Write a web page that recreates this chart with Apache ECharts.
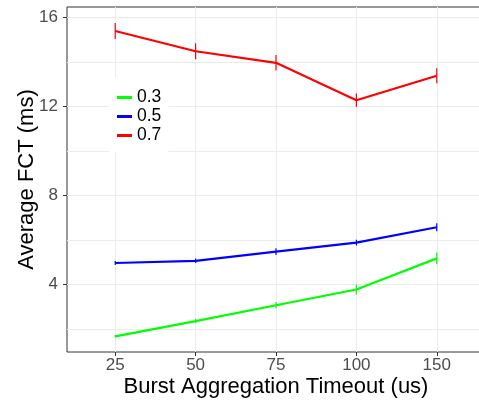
<!DOCTYPE html>
<html>
<head>
<meta charset="utf-8">
<script src="https://cdn.jsdelivr.net/npm/echarts@6/dist/echarts.min.js"></script>
<style>
  html, body { margin: 0; padding: 0; background: #fff; }
  #chart { width: 479px; height: 401px; }
</style>
</head>
<body>
<div id="chart"></div>
<script>
// burst aggregation timeouts (us)
const categories = ['25', '50', '75', '100', '150'];
const loadNames = ['0.3', '0.5', '0.7'];

// average FCT (ms) and error half-widths per load
const fct03 = [1.67, 2.36, 3.07, 3.78, 5.18];
const err03 = [0.05, 0.09, 0.15, 0.23, 0.26];
const fct05 = [4.97, 5.07, 5.48, 5.89, 6.58];
const err05 = [0.09, 0.10, 0.15, 0.13, 0.18];
const fct07 = [15.40, 14.49, 13.97, 12.29, 13.39];
const err07 = [0.36, 0.36, 0.35, 0.30, 0.34];

const yLabelTicks = [4, 8, 12, 16];
const yMinorTicks = [2, 6, 10, 14];

const colors = ['#00ff00', '#0000ff', '#ff0000'];
const font = 'Liberation Sans, Arial, sans-serif';

const groups = [
  { vals: fct03, errs: err03 },
  { vals: fct05, errs: err05 },
  { vals: fct07, errs: err07 }
];

let series = [];
groups.forEach(function (g, k) {
  series.push({
    name: loadNames[k],
    type: 'line',
    data: g.vals.map(function (v, i) { return [i + 1, v]; }),
    symbol: 'none',
    lineStyle: { color: colors[k], width: 2.2 },
    itemStyle: { color: colors[k] },
    z: 3
  });
  series.push({
    name: 'err' + loadNames[k],
    type: 'custom',
    data: g.vals.map(function (v, i) { return [i + 1, v - g.errs[i], v + g.errs[i]]; }),
    encode: { x: 0, y: [1, 2] },
    renderItem: function (params, api) {
      const lo = api.coord([api.value(0), api.value(1)]);
      const hi = api.coord([api.value(0), api.value(2)]);
      return {
        type: 'line',
        shape: { x1: lo[0], y1: lo[1], x2: hi[0], y2: hi[1] },
        style: { stroke: colors[k], lineWidth: 1.2 }
      };
    },
    z: 4
  });
});

const myChart = echarts.init(document.getElementById('chart'));
myChart.setOption({
  animation: false,
  textStyle: { fontFamily: font },
  grid: {
    left: 67, top: 7, right: -6, bottom: 49,
    show: true, borderColor: '#333333', borderWidth: 1,
    outerBoundsMode: 'none'
  },
  legend: {
    data: loadNames,
    orient: 'vertical',
    left: 109,
    top: 77,
    backgroundColor: '#ffffff',
    padding: [11, 7, 7, 8],
    itemGap: 0,
    itemWidth: 15,
    itemHeight: 3,
    icon: 'rect',
    textStyle: { fontSize: 17.5, color: '#000', lineHeight: 19, fontFamily: font }
  },
  xAxis: {
    type: 'value',
    min: 0.4,
    max: 5.6,
    name: 'Burst Aggregation Timeout (us)',
    nameLocation: 'middle',
    nameGap: 24,
    nameMoveOverlap: false,
    nameTextStyle: { fontSize: 22, color: '#000', fontFamily: font },
    axisLine: { show: false },
    axisTick: {
      customValues: [1, 2, 3, 4, 5],
      length: 4,
      lineStyle: { color: '#333333' }
    },
    axisLabel: {
      customValues: [1, 2, 3, 4, 5],
      formatter: function (v) { return categories[Math.round(v) - 1]; },
      color: '#4d4d4d',
      fontSize: 17,
      margin: 5
    },
    splitLine: { show: true, lineStyle: { color: '#ebebeb', width: 1 } }
  },
  yAxis: [{
    type: 'value',
    min: 0.97,
    max: 16.48,
    name: 'Average FCT (ms)',
    nameLocation: 'middle',
    nameGap: 29,
    nameMoveOverlap: false,
    nameTextStyle: { fontSize: 22, color: '#000', fontFamily: font },
    axisLine: { show: false },
    axisTick: {
      show: true,
      customValues: yLabelTicks,
      length: 4,
      lineStyle: { color: '#333333' }
    },
    axisLabel: {
      customValues: yLabelTicks,
      color: '#4d4d4d',
      fontSize: 17,
      margin: 9
    },
    splitLine: { show: true, lineStyle: { color: '#ebebeb', width: 1 } }
  }, {
    type: 'value',
    position: 'left',
    min: 0.97,
    max: 16.48,
    axisLine: { show: false },
    axisTick: { show: false, customValues: yMinorTicks },
    axisLabel: { show: false, customValues: yMinorTicks },
    splitLine: { show: true, lineStyle: { color: '#ebebeb', width: 1 } }
  }],
  series: series
});
</script>
</body>
</html>
